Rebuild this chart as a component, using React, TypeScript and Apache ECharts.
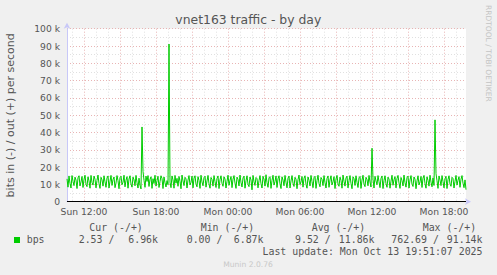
import React, { useEffect, useRef } from "react";
import * as echarts from "echarts";

// Time axis in hours since Sun 00:00; samples every 5 minutes from Sun 10:35
const START_HOUR = 10 + 35 / 60;
const STEP_HOURS = 5 / 60;
const END_HOUR = 43 + 50 / 60;

// out (+) traffic, in k bits per second, one value per 5 minutes
const outK: number[] = [
  13.2, 8.4, 14.9, 10.6, 7.9, 15.1, 11.8, 9.3, 14.2, 12.5, 7.6, 13.8, 15.0, 9.1, 11.4, 14.6, 8.2, 12.9, 15.3, 10.0,
  8.7, 14.4, 12.0, 7.8, 15.2, 11.1, 9.6, 14.8, 13.0, 8.0, 12.3, 15.4, 10.4, 7.7, 14.1, 12.6, 9.0, 15.0, 11.5, 8.3,
  13.7, 14.9, 7.9, 11.9, 15.2, 9.4, 12.8, 14.3, 8.1, 10.8, 15.1, 12.2, 7.5, 13.9, 14.7, 9.8, 11.3, 15.3, 8.6, 12.4,
  14.5, 7.8, 13.1, 15.0, 10.2, 8.4, 14.2, 12.7, 9.2, 15.2, 11.0, 7.9, 13.6, 9.5, 7.4, 43.2, 17.5, 12.4, 8.3, 14.8,
  11.7, 15.1, 8.8, 12.9, 14.4, 7.7, 13.3, 10.5, 15.3, 9.0, 12.1, 14.7, 8.2, 11.6, 15.0, 13.4, 7.6, 14.3, 10.9, 8.5,
  12.2, 9.8, 91.14, 11.3, 8.1, 14.9, 12.6, 7.8, 15.2, 10.7, 13.5, 8.9, 14.6, 11.8, 7.5, 15.4, 12.0, 9.3, 14.1, 13.2,
  7.9, 12.5, 15.1, 9.7, 11.2, 14.8, 8.0, 13.6, 15.0, 10.1, 8.6, 14.5, 12.3, 7.7, 15.3, 11.4, 9.2, 13.9, 14.7, 8.4,
  12.0, 15.2, 10.3, 7.8, 14.0, 12.8, 9.0, 15.1, 11.6, 8.2, 13.4, 14.9, 7.6, 12.7, 15.0, 10.6, 8.9, 14.4, 13.1, 7.9,
  11.8, 15.3, 9.5, 12.4, 14.6, 8.1, 13.0, 15.1, 10.8, 7.7, 14.2, 12.9, 9.1, 15.4, 11.2, 8.5, 13.7, 14.8, 7.8, 12.1,
  15.0, 10.0, 8.7, 14.3, 12.6, 6.87, 15.2, 11.5, 9.4, 14.0, 13.3, 8.0, 12.2, 15.1, 10.4, 7.9, 14.7, 12.8, 9.0, 15.6,
  11.0, 8.3, 13.8, 14.5, 7.7, 12.3, 15.3, 9.6, 11.7, 14.9, 8.2, 13.2, 15.0, 10.3, 7.6, 14.4, 12.5, 9.2, 15.2, 11.3,
  8.0, 13.6, 14.8, 7.9, 12.0, 15.1, 10.7, 8.8, 14.1, 13.0, 7.5, 12.7, 15.4, 9.9, 11.4, 14.6, 8.4, 13.5, 15.0, 10.1,
  7.8, 14.3, 12.4, 9.1, 15.2, 11.6, 8.1, 13.9, 14.7, 7.7, 12.2, 15.3, 10.5, 8.6, 14.0, 12.9, 9.3, 15.1, 11.1, 7.9,
  13.4, 14.9, 8.3, 12.6, 15.0, 9.7, 11.5, 14.5, 7.6, 13.1, 15.2, 10.2, 8.9, 14.2, 12.3, 7.8, 15.4, 11.8, 9.0, 13.7,
  14.8, 8.0, 12.1, 15.1, 10.6, 7.5, 14.4, 13.3, 9.4, 15.0, 11.2, 8.2, 13.8, 14.6, 7.7, 12.5, 15.3, 10.0, 8.7, 14.1,
  12.8, 9.2, 15.2, 11.4, 8.5, 30.9, 13.0, 7.9, 14.7, 12.0, 9.8, 15.1, 11.6, 8.1, 13.5, 14.9, 7.6, 12.4, 15.0, 10.4,
  8.3, 14.2, 13.1, 7.8, 11.9, 15.3, 9.5, 12.7, 14.5, 8.0, 13.3, 15.2, 10.8, 7.7, 14.0, 12.2, 9.1, 15.4, 11.0, 8.4,
  13.9, 14.8, 7.9, 12.6, 15.1, 10.1, 8.8, 14.3, 13.0, 7.5, 12.0, 15.0, 9.7, 11.5, 14.6, 8.2, 13.6, 15.2, 10.5, 7.8,
  14.4, 12.3, 9.0, 15.3, 11.3, 8.6, 13.8, 9.4, 47.3, 16.2, 12.1, 7.7, 14.9, 12.5, 9.3, 15.1, 11.7, 8.0, 13.2, 14.7,
  7.6, 12.8, 15.0, 10.2, 8.9, 14.1, 13.4, 7.9, 11.8, 15.2, 9.6, 12.4, 14.5, 8.3, 13.0, 15.1, 10.7, 8.1, 12.6, 6.96,
];

// Axis ticks / labels
const gridHours: number[] = [];
for (let h = 11; h <= 43; h++) gridHours.push(h);
const xLabelHours = [12, 18, 24, 30, 36, 42];
const xLabelTexts = ["Sun 12:00", "Sun 18:00", "Mon 00:00", "Mon 06:00", "Mon 12:00", "Mon 18:00"];

// Legend
const legendHeaders = ["Cur (-/+)", "Min (-/+)", "Avg (-/+)", "Max (-/+)"];
const legendIn = ["2.53 /", "0.00 /", "9.52 /", "762.69 /"];
const legendOut = ["6.96k", "6.87k", "11.86k", "91.14k"];
const headerX = [89.3, 200.7, 311.7, 422.7];
const inX = [78.7, 186.7, 295, 391.3];
const outRightX = [158, 263.5, 374.5, 482.5];

const MONO = "'DejaVu Sans Mono', monospace";
const SANS = "'DejaVu Sans', sans-serif";
const TXT = "#555555";

export default function App() {
  const ref = useRef<HTMLDivElement>(null);
  useEffect(() => {
    if (!ref.current) return;
    const chart = echarts.init(ref.current, null, { renderer: "svg" });
    const seriesData = outK.map((v, i) => [START_HOUR + i * STEP_HOURS, v * 1000]);

    const legendEls: any[] = [];
    legendHeaders.forEach((t, i) => {
      legendEls.push({
        type: "text", x: headerX[i], y: 227.5,
        style: { text: t, font: `9.9px ${MONO}`, fill: TXT, align: "left", verticalAlign: "middle", textAlign: "left", textVerticalAlign: "middle" },
      });
      legendEls.push({
        type: "text", x: inX[i], y: 239.8,
        style: { text: legendIn[i], font: `9.9px ${MONO}`, fill: TXT, align: "left", verticalAlign: "middle", textAlign: "left", textVerticalAlign: "middle" },
      });
      legendEls.push({
        type: "text", x: outRightX[i], y: 239.8,
        style: { text: legendOut[i], font: `9.9px ${MONO}`, fill: TXT, align: "right", verticalAlign: "middle", textAlign: "right", textVerticalAlign: "middle" },
      });
    });

    chart.setOption({
      animation: false,
      backgroundColor: "#f0f0f0",
      grid: { left: 67, right: 31, top: 28.7, bottom: 73.3, show: true, backgroundColor: "#ffffff", borderWidth: 0 },
      xAxis: {
        type: "value",
        min: START_HOUR,
        max: END_HOUR,
        axisLine: {
          show: true,
          onZero: false,
          lineStyle: { color: "#c8c8f8", width: 1 },
          symbol: ["none", "arrow"],
          symbolSize: [5, 6],
          symbolOffset: [0, 5],
        },
        axisTick: { show: false, customValues: gridHours },
        axisLabel: {
          customValues: xLabelHours,
          formatter: (v: number) => {
            const idx = xLabelHours.findIndex((h) => Math.abs(h - v) < 1e-6);
            return idx >= 0 ? xLabelTexts[idx] : "";
          },
          color: TXT,
          fontFamily: SANS,
          fontSize: 9.2,
          margin: 5,
        },
        splitLine: {
          show: true,
          lineStyle: { color: ["#e0e0e0", "#e8b4b4", "#e0e0e0"], type: [1, 2], width: 1 },
        },
      },
      yAxis: {
        type: "value",
        min: 0,
        max: 100000,
        interval: 10000,
        axisLine: {
          show: true,
          lineStyle: { color: "#c8c8f8", width: 1 },
          symbol: ["none", "arrow"],
          symbolSize: [5, 6],
          symbolOffset: [0, 6],
        },
        axisTick: { show: false },
        axisLabel: {
          formatter: (v: number) => (v === 0 ? "0" : `${v / 1000} k`),
          color: TXT,
          fontFamily: SANS,
          fontSize: 9.2,
          margin: 7,
        },
        splitLine: { show: true, lineStyle: { color: "#e8b4b4", type: [1, 2], width: 1 } },
        minorTick: { show: false, splitNumber: 2 },
        minorSplitLine: { show: true, lineStyle: { color: "#e0e0e0", type: [1, 2], width: 1 } },
      },
      series: [
        {
          type: "line",
          data: seriesData,
          showSymbol: false,
          symbol: "none",
          lineStyle: { color: "#00cc00", width: 1 },
          itemStyle: { color: "#00cc00" },
          z: 3,
          markLine: {
            silent: true,
            symbol: ["none", "none"],
            label: { show: false },
            lineStyle: { color: "#000000", width: 1, type: "solid" },
            data: [{ yAxis: 0 }],
          },
        },
      ],
      graphic: [
        {
          type: "text", x: 248.3, y: 19.5,
          style: { text: "vnet163 traffic - by day", font: `12.4px ${SANS}`, fill: TXT, align: "center", verticalAlign: "middle", textAlign: "center", textVerticalAlign: "middle" },
        },
        {
          type: "text", x: 10.5, y: 115.3, rotation: Math.PI / 2,
          style: { text: "bits in (-) / out (+) per second", font: `11px ${SANS}`, fill: TXT, align: "center", verticalAlign: "middle", textAlign: "center", textVerticalAlign: "middle" },
        },
        {
          type: "text", x: 488.3, y: 53.3, rotation: -Math.PI / 2,
          style: { text: "RRDTOOL / TOBI OETIKER", font: `7.5px ${SANS}`, fill: "#c4c4c4", align: "center", verticalAlign: "middle", textAlign: "center", textVerticalAlign: "middle" },
        },
        {
          type: "rect", shape: { x: 14, y: 237, width: 6, height: 6 },
          style: { fill: "#00cc00" },
        },
        {
          type: "text", x: 26.7, y: 239.8,
          style: { text: "bps", font: `9.9px ${MONO}`, fill: TXT, align: "left", verticalAlign: "middle", textAlign: "left", textVerticalAlign: "middle" },
        },
        ...legendEls,
        {
          type: "text", x: 482.5, y: 251.7,
          style: { text: "Last update: Mon Oct 13 19:51:07 2025", font: `9.9px ${MONO}`, fill: TXT, align: "right", verticalAlign: "middle", textAlign: "right", textVerticalAlign: "middle" },
        },
        {
          type: "text", x: 248, y: 264,
          style: { text: "Munin 2.0.76", font: `7.6px ${SANS}`, fill: "#c8c8c8", align: "center", verticalAlign: "middle", textAlign: "center", textVerticalAlign: "middle" },
        },
      ],
    });
    return () => chart.dispose();
  }, []);
  return <div ref={ref} style={{ position: "fixed", left: 0, top: 0, width: 497, height: 275 }} />;
}
